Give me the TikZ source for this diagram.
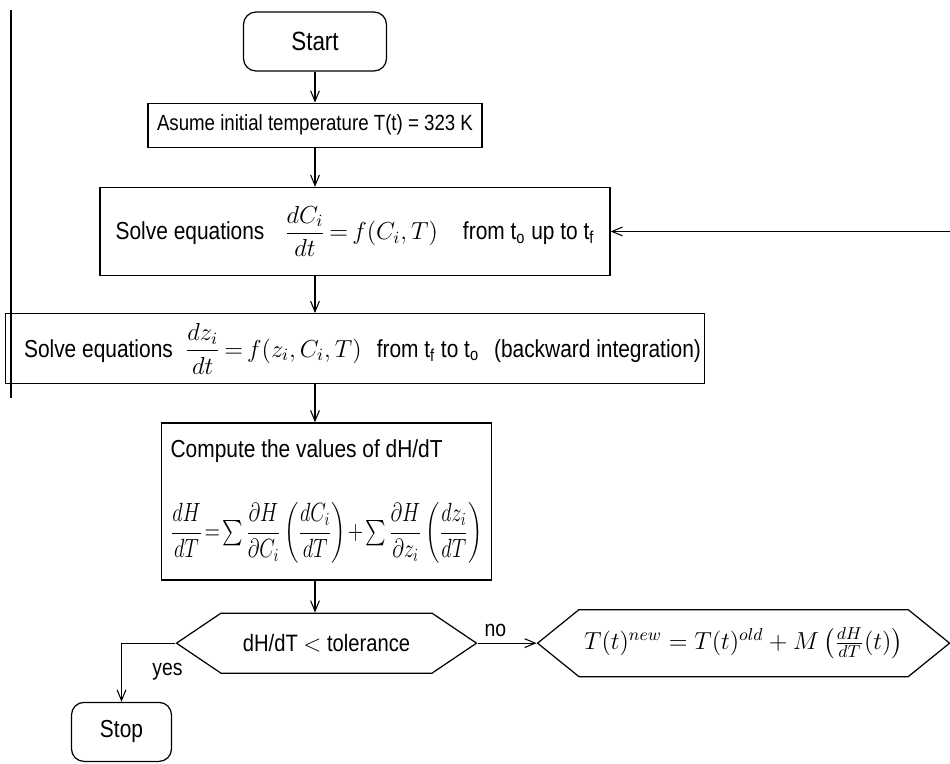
\documentclass[tikz,border=0pt]{standalone}
\usepackage{fix-cm}
\usepackage{amsmath}
\usepackage[no-math]{fontspec}
\setmainfont{Liberation Sans}[FakeStretch=0.85]
\usetikzlibrary{shapes.symbols}
\usetikzlibrary{positioning, arrows.meta}

\begin{document}
\begin{tikzpicture}[
            font=\fontsize{13}{15}\selectfont,
            line width=0.7pt,
            terminal/.style={draw, rounded corners=0.25cm, minimum width=2.86cm, minimum height=1.18cm},
            process/.style={draw, align=center, inner sep=2pt},
            choice/.style={draw, signal, signal to=west and east, inner sep=2pt},
            link/.style={-{Straight Barb[length=6pt, width=5pt]}, line width=0.6pt}
        ]
            \useasboundingbox (-6.3,0.83) rectangle (12.7,-14.43);

            % nodes
            \node[terminal, font=\fontsize{15}{17}\selectfont] (start) {Start};
            \node[process, font=\fontsize{12.5}{15}\selectfont, minimum width=6.68cm, minimum height=0.88cm, below=0.62cm of start] (init)
                {Asume initial temperature T(t) = 323 K};
            \node[process, font=\fontsize{14}{16}\selectfont, minimum width=10.2cm, minimum height=1.76cm, below=0.78cm of init, xshift=0.8cm] (solvec)
                {Solve equations\hspace{0.4cm}$\thickmuskip=3mu\dfrac{dC_i}{dt} = f(C_i,T)$\hspace{0.5cm}from t\textsubscript{o} up to t\textsubscript{f}};
            \node[process, font=\fontsize{14}{16}\selectfont, minimum width=13.94cm, minimum height=1.4cm, below=0.74cm of solvec] (solvez)
                {\hspace*{0.3cm}Solve equations\hspace{0.25cm}$\thickmuskip=3mu\dfrac{dz_i}{dt} = f(z_i,C_i,T)$\hspace{0.3cm}from t\textsubscript{f} to t\textsubscript{o}\hspace{0.3cm}(backward integration)};
            \node[process, align=left, inner sep=4pt, minimum width=6.6cm, minimum height=3.14cm, below=0.76cm of solvez, xshift=-0.57cm] (grad)
                {{\fontsize{14}{16}\selectfont Compute the values of dH/dT}\\[22pt]
                 {\fontsize{15}{17}\selectfont\scalebox{0.77}[1]{$\thickmuskip=2mu\medmuskip=1.5mu
                  \dfrac{dH}{dT} = \sum\dfrac{\partial H}{\partial C_i}\left(\dfrac{dC_i}{dT}\right)
                  + \sum\dfrac{\partial H}{\partial z_i}\left(\dfrac{dz_i}{dT}\right)$}}};
            \node[choice, font=\fontsize{13.5}{16}\selectfont, signal pointer angle=68, minimum width=6cm, minimum height=1.2cm, below=0.64cm of grad] (check)
                {dH/dT $<$ tolerance};
            \node[choice, font=\fontsize{14}{16}\selectfont, signal pointer angle=78, minimum width=8.24cm, minimum height=1.34cm, right=1.18cm of check] (update)
                {$T(t)^{new} = T(t)^{old} + M\left(\frac{dH}{dT}(t)\right)$};
            \node[terminal, font=\fontsize{14}{16}\selectfont, minimum width=2cm, below=0.56cm of check, xshift=-4.1cm] (stop) {Stop};
            \coordinate[right=6.8cm of solvec.east] (loopin);

            % main flow
            \draw[link] (start) -- (init);
            \draw[link] (init) -- (init |- solvec.north);
            \draw[link] (solvec.south -| init) -- (solvez.north -| init);
            \draw[link] (solvez.south -| init) -- (grad.north -| init);
            \draw[link] (grad.south -| init) -- (check.north -| init);

            % decision
            \draw[link] (check.east) -- node[pos=0.3, above] {no} (update.west);
            \draw[link] (check.west) -| node[pos=0.74, right=14pt] {yes} (stop.north);

            % return to the first solver
            \draw[link] (loopin) -- (solvec.east);

            % rule on the left
            \draw[line width=0.6pt] (-6.08,0.63) -- (-6.08,-7.13);
          \end{tikzpicture}
\end{document}
